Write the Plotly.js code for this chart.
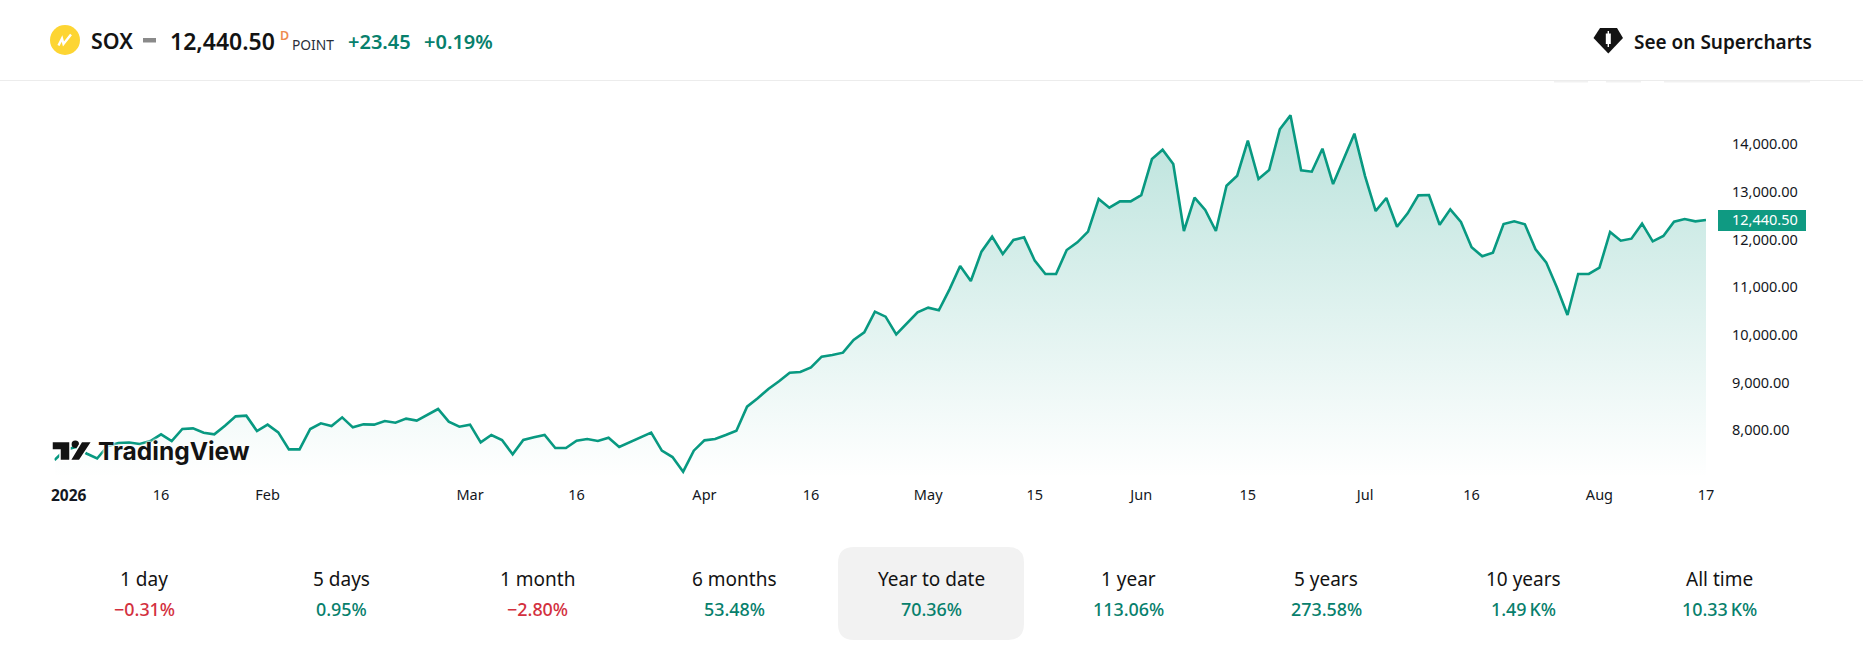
<!DOCTYPE html>
<html><head><meta charset="utf-8"><title>SOX</title>
<script src="https://cdn.plot.ly/plotly-3.0.1.min.js"></script>
<style>html,body{margin:0;padding:0;background:#fff;overflow:hidden}#c{width:1863px;height:653px}</style>
</head><body><div id="c"></div>
<script>
const tradingDays = ["2026-01-02","2026-01-05","2026-01-06","2026-01-07","2026-01-08","2026-01-09","2026-01-12","2026-01-13","2026-01-14","2026-01-15","2026-01-16","2026-01-20","2026-01-21","2026-01-22","2026-01-23","2026-01-26","2026-01-27","2026-01-28","2026-01-29","2026-01-30",
"2026-02-02","2026-02-03","2026-02-04","2026-02-05","2026-02-06","2026-02-09","2026-02-10","2026-02-11","2026-02-12","2026-02-13","2026-02-17","2026-02-18","2026-02-19","2026-02-20","2026-02-23","2026-02-24","2026-02-25","2026-02-26","2026-02-27",
"2026-03-02","2026-03-03","2026-03-04","2026-03-05","2026-03-06","2026-03-09","2026-03-10","2026-03-11","2026-03-12","2026-03-13","2026-03-16","2026-03-17","2026-03-18","2026-03-19","2026-03-20","2026-03-23","2026-03-24","2026-03-25","2026-03-26","2026-03-27","2026-03-30","2026-03-31",
"2026-04-01","2026-04-02","2026-04-06","2026-04-07","2026-04-08","2026-04-09","2026-04-10","2026-04-13","2026-04-14","2026-04-15","2026-04-16","2026-04-17","2026-04-20","2026-04-21","2026-04-22","2026-04-23","2026-04-24","2026-04-27","2026-04-28","2026-04-29","2026-04-30",
"2026-05-01","2026-05-04","2026-05-05","2026-05-06","2026-05-07","2026-05-08","2026-05-11","2026-05-12","2026-05-13","2026-05-14","2026-05-15","2026-05-18","2026-05-19","2026-05-20","2026-05-21","2026-05-22","2026-05-26","2026-05-27","2026-05-28","2026-05-29",
"2026-06-01","2026-06-02","2026-06-03","2026-06-04","2026-06-05","2026-06-08","2026-06-09","2026-06-10","2026-06-11","2026-06-12","2026-06-15","2026-06-16","2026-06-17","2026-06-18","2026-06-22","2026-06-23","2026-06-24","2026-06-25","2026-06-26","2026-06-29","2026-06-30",
"2026-07-01","2026-07-02","2026-07-06","2026-07-07","2026-07-08","2026-07-09","2026-07-10","2026-07-13","2026-07-14","2026-07-15","2026-07-16","2026-07-17","2026-07-20","2026-07-21","2026-07-22","2026-07-23","2026-07-24","2026-07-27","2026-07-28","2026-07-29","2026-07-30","2026-07-31",
"2026-08-03","2026-08-04","2026-08-05","2026-08-06","2026-08-07","2026-08-10","2026-08-11","2026-08-12","2026-08-13","2026-08-14","2026-08-17"];

const closes = [7410,7620,7683,7547,7442,7704,7766,7777,7745,7808,
7948,7808,8060,8074,7983,7948,8130,8325,8339,8018,
8151,7990,7634,7634,8060,8179,8123,8304,8095,8158,
8151,8228,8193,8277,8235,8360,8479,8214,8109,8151,
7780,7934,7829,7529,7829,7885,7934,7662,7662,7815,
7850,7808,7878,7683,7787,7885,7983,7606,7473,7166,
7606,7822,7850,7934,8025,8528,8703,8898,9059,9240,
9254,9352,9576,9611,9660,9925,10086,10519,10414,10044,
10275,10505,10603,10547,10987,11476,11162,11777,12091,11728,
12021,12077,11588,11309,11309,11812,11972,12196,12880,12699,
12831,12831,12964,13719,13914,13614,12210,12908,12650,12210,
13160,13369,14103,13299,13488,14341,14634,13481,13453,13935,
13195,13719,14250,13362,12629,12901,12300,12580,12957,12964,
12342,12664,12398,11868,11679,11756,12357,12412,12350,11826,
11553,11029,10449,11309,11309,11441,12189,12007,12049,12364,
11993,12105,12405,12461,12412,12440.5];

const xTickDates = ["2026-01-16","2026-02-02","2026-03-02","2026-03-16","2026-04-01","2026-04-16","2026-05-01","2026-05-15","2026-06-01","2026-06-15","2026-07-01","2026-07-16","2026-08-03","2026-08-17"];
const xTickLabels = ["16","Feb","Mar","16","Apr","16","May","15","Jun","15","Jul","16","Aug","17"];
const yTickValues = [8000,9000,10000,11000,12000,13000,14000];
const yTickLabels = ["8,000.00","9,000.00","10,000.00","11,000.00","12,000.00","13,000.00","14,000.00"];

const periodLabels = ["1 day","5 days","1 month","6 months","Year to date","1 year","5 years","10 years","All time"];
const periodValues = ["\u22120.31%","0.95%","\u22122.80%","53.48%","70.36%","113.06%","273.58%","1.49\u2009K%","10.33\u2009K%"];
const periodUp = [false,true,false,true,true,true,true,true,true];

const W=1863,H=653,FONT='"Noto Sans", sans-serif',INK='#131722',UP='#07806c',DOWN='#d3303e',LINE='#089981',TAG='#0f9a82';
const px=x=>x/W, py=y=>1-y/H;
const pathOf=pts=>pts.map((p,i)=>(p[2]||(i?'L':'M'))+' '+px(p[0])+' '+py(p[1])).join(' ');
const shapePath=(pts,fill,line,lw,close=true)=>({type:'path',xref:'paper',yref:'paper',layer:'above',path:pathOf(pts)+(close?' Z':''),fillcolor:fill||'rgba(0,0,0,0)',line:{color:line||'rgba(0,0,0,0)',width:lw||0}});
const rect=(x0,y0,x1,y1,fill,layer='above')=>({type:'rect',xref:'paper',yref:'paper',layer,x0:px(x0),x1:px(x1),y0:py(y1),y1:py(y0),fillcolor:fill,line:{width:0}});
const note=(x,y,text,size,color,weight=400,anchor='center',extra={})=>({xref:'paper',yref:'paper',x:px(x),y:py(y),text,showarrow:false,xanchor:anchor,yanchor:'middle',font:Object.assign({family:FONT,size,color,weight},extra),borderpad:0});

function roundedCard(x0,y0,x1,y1,r,fill){
  const k=r;
  const d=[`M ${px(x0+k)} ${py(y0)}`,`L ${px(x1-k)} ${py(y0)}`,`Q ${px(x1)} ${py(y0)} ${px(x1)} ${py(y0+k)}`,`L ${px(x1)} ${py(y1-k)}`,`Q ${px(x1)} ${py(y1)} ${px(x1-k)} ${py(y1)}`,`L ${px(x0+k)} ${py(y1)}`,`Q ${px(x0)} ${py(y1)} ${px(x0)} ${py(y1-k)}`,`L ${px(x0)} ${py(y0+k)}`,`Q ${px(x0)} ${py(y0)} ${px(x0+k)} ${py(y0)}`,'Z'].join(' ');
  return {type:'path',xref:'paper',yref:'paper',layer:'below',path:d,fillcolor:fill,line:{width:0}};
}

const shapes=[
  rect(0,80,W,81,'#ececec'),
  rect(1554,81,1588,82.5,'#f1f1f1'),rect(1606,81,1641,82.5,'#f1f1f1'),rect(1664,81,1810,82.5,'#f1f1f1'),
  // symbol icon
  {type:'circle',xref:'paper',yref:'paper',layer:'above',x0:px(50),x1:px(80),y0:py(55),y1:py(25),fillcolor:'#fdd533',line:{width:0}},
  shapePath([[58.5,45.5],[62,38.5],[63.5,44],[71,34.5]],null,'#ffffff',2.4,false),
  // dash after the symbol
  rect(143,38,156,42.5,'#8a8a8a'),
  // Supercharts diamond
  shapePath([[1600,28],[1617,28],[1623,38],[1608.3,53.5],[1593.5,38]],'#131313'),
  rect(1605.8,33.5,1610.8,44,'#ffffff'),rect(1607.6,31,1609,47,'#ffffff'),
  // price tag
  rect(1718,210,1806,231,TAG),
  // selected period card
  roundedCard(838,547,1024,640,16,'#f2f2f2'),
  // TradingView mark
  shapePath([[52,441.5],[70,441.5],[70,460.5],[60,460.5],[60,450],[52,450]],'#131313','#ffffff',1.5),
  {type:'circle',xref:'paper',yref:'paper',layer:'above',x0:px(71.6),x1:px(79),y0:py(448),y1:py(440.6),fillcolor:'#131313',line:{width:0}},
  shapePath([[81.5,441.5],[92,441.5],[79.5,460.5],[70,460.5]],'#131313','#ffffff',1.5),
];

const annotations=[
  note(90,41,'SOX',21.4,'#131313',600,'left'),
  note(169,41,'12,440.50',23,'#131313',600,'left'),
  note(279,35,'D',12.5,'#ee8a4f',600,'left'),
  note(291,44,'POINT',13.8,'#2a2e39',400,'left'),
  note(347,41.5,'+23.45',20,UP,600,'left'),
  note(423,41.5,'+0.19%',20,UP,600,'left'),
  note(1633,41.5,'See on Supercharts',19,'#131313',600,'left'),
  note(49.5,495,'<b>2026</b>',15.5,INK,700,'left'),
  note(1731,219.5,'12,440.50',14.5,'#ffffff',400,'left'),
  note(96.5,451,'TradingView',24.5,'#131313',700,'left',{family:'Inter, sans-serif',shadow:'0 0 3px #fff, 0 0 3px #fff, 0 0 3px #fff'}),
];
const cardCentres=[144,341,537,734,931,1128,1326,1523,1719];
periodLabels.forEach((t,i)=>{
  annotations.push(note(cardCentres[i],579,t,19,'#131313',400));
  annotations.push(note(cardCentres[i],609,periodValues[i],17.9,periodUp[i]?UP:DOWN,500));
});

const trace={
  type:'scatter',mode:'lines',x:tradingDays,y:closes,cliponaxis:false,
  line:{color:LINE,width:2.6,shape:'linear'},fill:'tozeroy',
  fillgradient:{type:'vertical',start:7033,stop:14634,colorscale:[[0,'rgba(8,153,129,0)'],[1,'rgba(8,153,129,0.28)']]},
  hoverinfo:'skip'
};
const layout={
  width:W,height:H,margin:{l:0,r:0,t:0,b:0,pad:0},paper_bgcolor:'#fff',plot_bgcolor:'rgba(0,0,0,0)',showlegend:false,
  font:{family:FONT,color:INK},
  xaxis:{type:'category',domain:[54.5/W,1706/W],range:[0,155],tickmode:'array',tickvals:xTickDates,ticktext:xTickLabels,ticks:'',showgrid:false,zeroline:false,showline:false,ticklabelstandoff:6,tickfont:{family:FONT,size:14.5,color:INK},automargin:false,tickangle:0},
  yaxis:{side:'right',domain:[1-478/H,1-82/H],range:[7033,15333],tickmode:'array',tickvals:yTickValues,ticktext:yTickLabels,ticks:'',showgrid:false,zeroline:false,showline:false,ticklabelstandoff:25,tickfont:{family:FONT,size:14.5,color:INK},automargin:false},
  shapes,annotations
};
Plotly.newPlot('c',[trace],layout,{displayModeBar:false,staticPlot:true}).then(()=>{
  document.querySelectorAll('.ytick text').forEach(t=>t.setAttribute('y',(+t.getAttribute('y')||0)-1.5));
});
</script></body></html>
